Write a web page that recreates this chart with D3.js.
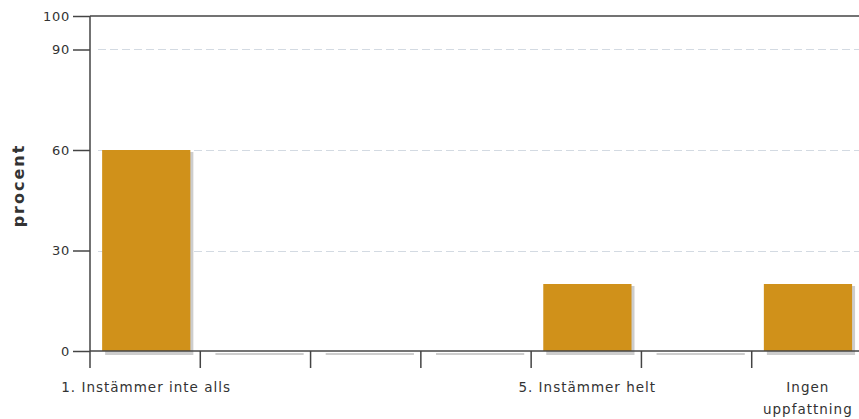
<!DOCTYPE html>
<html><head><meta charset="utf-8">
<script src="https://cdn.jsdelivr.net/npm/d3@7"></script>
<style>
body{margin:0;background:#fff;}
text{font-family:"DejaVu Sans",Verdana,sans-serif;fill:#333;}
</style></head>
<body>
<svg id="c" width="859" height="419"></svg>
<script>
const categories = ["1. Instämmer inte alls", "2", "3", "4", "5. Instämmer helt", "6", "Ingen uppfattning"];
const tickLabels = ["1. Instämmer inte alls", "", "", "", "5. Instämmer helt", "", "Ingen|uppfattning"];
const values = [60, 0, 0, 0, 20, 0, 20];
const yTicks = [0, 30, 60, 90, 100];
const gridTicks = [30, 60, 90];

const svg = d3.select("#c");
const x0 = 90, x1 = 862, yTop = 16, yBot = 351;
const x = d3.scaleBand().domain(categories).range([x0, x1]);
const y = d3.scaleLinear().domain([0, 100]).range([yBot, yTop]);
const bw = x.bandwidth();

// grid
svg.append("g").selectAll("line").data(gridTicks).join("line")
  .attr("x1", x0 + 8).attr("x2", 859)
  .attr("y1", d => Math.round(y(d)) + 0.5).attr("y2", d => Math.round(y(d)) + 0.5)
  .attr("stroke", "#d3dae2").attr("stroke-width", 1).attr("stroke-dasharray", "8,4");

// shadows
svg.append("g").selectAll("rect").data(values).join("rect")
  .attr("x", (d, i) => x(categories[i]) + bw * 0.11 + 3)
  .attr("y", d => y(d) + 2)
  .attr("width", bw * 0.8)
  .attr("height", d => y(0) - y(d) + 2)
  .attr("fill", "#cdcdcd");

// bars
svg.append("g").selectAll("rect").data(values).join("rect")
  .attr("x", (d, i) => x(categories[i]) + bw * 0.11)
  .attr("y", d => y(d))
  .attr("width", bw * 0.8)
  .attr("height", d => y(0) - y(d))
  .attr("fill", "#d0911a");

// y axis
const ya = svg.append("g").attr("transform", `translate(${x0},0)`)
  .call(d3.axisLeft(y).tickValues(yTicks).tickSize(17).tickPadding(3).tickFormat(d3.format("d")));
ya.select(".domain").remove();
ya.selectAll(".tick line").attr("stroke", "#444").attr("stroke-width", 1.5);
ya.selectAll(".tick text").attr("font-size", 13).attr("letter-spacing", 0.7)
  .attr("fill", "#333").style("font-family", "DejaVu Sans");
svg.append("line").attr("x1", x0).attr("x2", x0).attr("y1", yTop).attr("y2", yBot + 17)
  .attr("stroke", "#444").attr("stroke-width", 1.5);
// top frame
svg.append("line").attr("x1", x0).attr("x2", 859).attr("y1", y(100)).attr("y2", y(100))
  .attr("stroke", "#444").attr("stroke-width", 1.5);

// x axis
svg.append("line").attr("x1", x0).attr("x2", 859).attr("y1", yBot).attr("y2", yBot)
  .attr("stroke", "#444").attr("stroke-width", 1.5);
svg.append("g").selectAll("line").data(categories.slice(1)).join("line")
  .attr("x1", d => x(d)).attr("x2", d => x(d))
  .attr("y1", yBot).attr("y2", yBot + 17)
  .attr("stroke", "#444").attr("stroke-width", 1.5);

const xl = svg.append("g").selectAll("text").data(categories).join("text")
  .attr("x", d => x(d) + bw / 2 + 1).attr("y", yBot + 41)
  .attr("text-anchor", "middle").attr("font-size", 13.5).attr("letter-spacing", 1);
xl.each(function(d, i) {
  const parts = tickLabels[i].split("|");
  d3.select(this).selectAll("tspan").data(parts).join("tspan")
    .attr("x", x(d) + bw / 2 + 1).attr("dy", (p, j) => j === 0 ? 0 : 22).text(p => p);
});

// y title
svg.append("text").attr("transform", `translate(24,${(yTop + yBot) / 2 + 2}) rotate(-90)`)
  .attr("text-anchor", "middle").attr("font-size", 16).attr("font-weight", "bold")
  .attr("letter-spacing", 2).text("procent");
</script>
</body></html>
